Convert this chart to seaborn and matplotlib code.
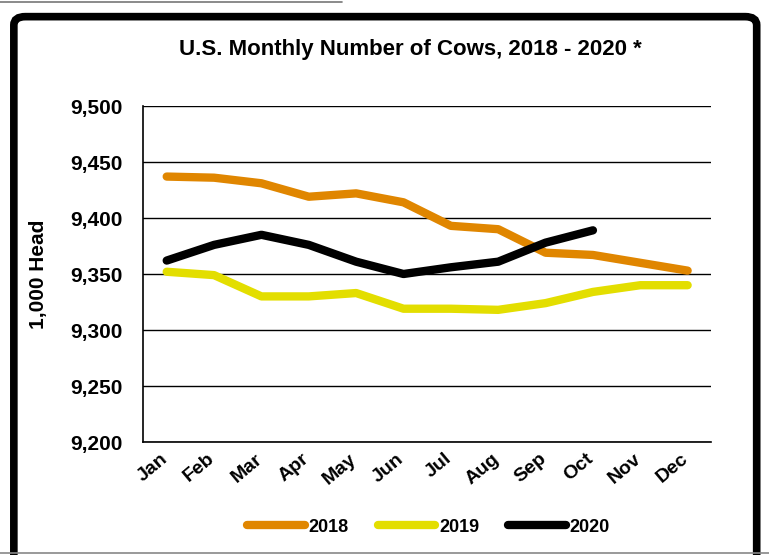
import numpy as np
import pandas as pd
import seaborn as sns
import matplotlib.pyplot as plt
import matplotlib.transforms as mtransforms
from matplotlib.patches import FancyBboxPatch
from matplotlib.lines import Line2D

# ---------------------------------------------------------
# data (1,000 head)
# ---------------------------------------------------------
months = ['Jan', 'Feb', 'Mar', 'Apr', 'May', 'Jun',
          'Jul', 'Aug', 'Sep', 'Oct', 'Nov', 'Dec']
cows_2018 = [9437, 9436, 9431, 9419, 9422, 9414, 9393, 9390, 9369, 9367, 9360, 9353]
cows_2019 = [9352, 9349, 9330, 9330, 9333, 9319, 9319, 9318, 9324, 9334, 9340, 9340]
cows_2020 = [9362, 9376, 9385, 9376, 9361, 9350, 9356, 9361, 9378, 9389]
years = ['2018', '2019', '2020']
colors = ['#E08600', '#E3DE00', '#000000']

rows = []
for yr, vals in zip(years, [cows_2018, cows_2019, cows_2020]):
    for m, v in zip(months, vals):
        rows.append({'month': m, 'head': v, 'year': yr})
df = pd.DataFrame(rows)

# ---------------------------------------------------------
# style
# ---------------------------------------------------------
sns.set_style('white')
plt.rcParams['font.family'] = ['Liberation Sans', 'DejaVu Sans']
plt.rcParams['font.weight'] = 'bold'
plt.rcParams['text.color'] = 'black'
plt.rcParams['xtick.color'] = 'black'
plt.rcParams['ytick.color'] = 'black'
plt.rcParams['axes.labelcolor'] = 'black'

fig = plt.figure(figsize=(7.69, 5.55), dpi=100)
ax = fig.add_axes([0.186, 0.2036, 0.739, 0.6054])

sns.lineplot(data=df, x='month', y='head', hue='year', palette=colors,
             linewidth=6, sort=False, legend=False, ax=ax,
             solid_capstyle='round', solid_joinstyle='round')

ax.set_ylim(9200, 9500)
ax.set_yticks(np.arange(9200, 9501, 50))
ax.set_yticklabels([f'{v:,}' for v in range(9200, 9501, 50)], fontsize=15, fontweight='bold')
ax.set_xlim(-0.5, 11.5)
ax.set_xticks(range(12))
ax.set_xticklabels(months, rotation=40, ha='right', rotation_mode='anchor',
                   fontsize=14, fontweight='bold')
ax.set_xticks(np.arange(-0.5, 12, 1), minor=True)
ax.tick_params(axis='x', which='major', length=0, pad=6)
ax.tick_params(axis='x', which='minor', length=7, width=1, color='black', direction='out')
ax.tick_params(axis='y', length=8, width=1, color='black', direction='out', pad=7)
# nudge month labels to the left (after tick_params, which resets transforms)
shift = mtransforms.ScaledTranslation(-7 / 100, 0, fig.dpi_scale_trans)
for lab in ax.get_xticklabels():
    lab.set_transform(lab.get_transform() + shift)
ax.yaxis.grid(True, color='black', linewidth=1)
ax.set_axisbelow(True)
for s in ['top', 'right']:
    ax.spines[s].set_visible(False)
for s in ['left', 'bottom']:
    ax.spines[s].set_color('black')
    ax.spines[s].set_linewidth(1.2)

ax.set_xlabel('')
ax.set_ylabel('1,000 Head', fontsize=15, fontweight='bold', labelpad=16)
fig.text(410 / 769, 1 - 50 / 555, 'U.S. Monthly Number of Cows, 2018 - 2020 *',
         ha='center', va='center', fontsize=16, fontweight='bold')

handles = [Line2D([0], [0], color=c, linewidth=6, solid_capstyle='round') for c in colors]
fig.legend(handles, years, loc='center', bbox_to_anchor=(0.557, 0.05), ncol=3,
           frameon=False, handlelength=3.2, handletextpad=0.2, columnspacing=1.6,
           prop={'size': 13, 'weight': 'bold'})

# outer frame like the source report
frame = FancyBboxPatch((0.018, -0.05), 0.966, 1.02, boxstyle='round,pad=0,rounding_size=0.015',
                       transform=fig.transFigure, fill=False, edgecolor='black',
                       linewidth=5.5, clip_on=False)
fig.patches.append(frame)
fig.add_artist(Line2D([0, 0.445], [0.997, 0.997], color='#777777', linewidth=1.2,
                      transform=fig.transFigure))
fig.add_artist(Line2D([0, 1], [0.003, 0.003], color='#888888', linewidth=1.2,
                      transform=fig.transFigure))

fig.savefig('out.png', dpi=100)
